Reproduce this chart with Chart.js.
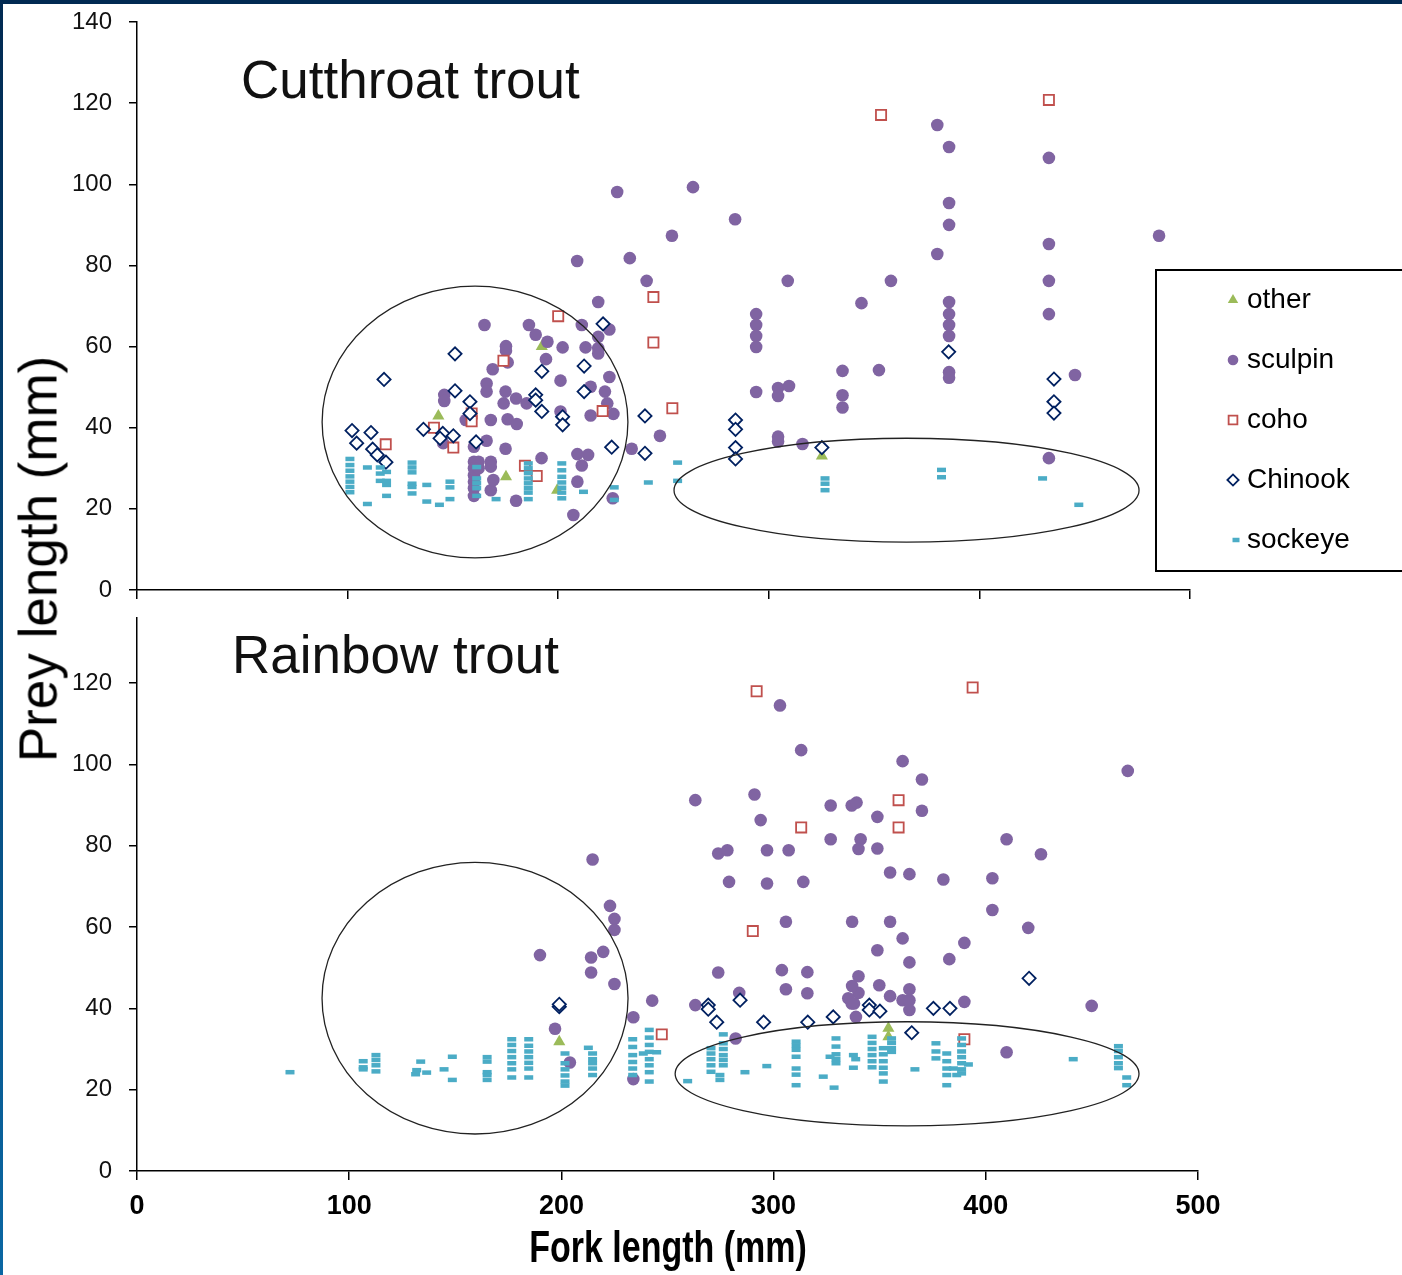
<!DOCTYPE html>
<html lang="en">
<head>
<meta charset="UTF-8">
<title>Prey length by fork length</title>
<script src="https://cdn.jsdelivr.net/npm/chart.js@4.4.0/dist/chart.umd.min.js"></script>
<style>
    body { margin: 0; background: #fff; }
    #page { position: relative; width: 1402px; height: 1275px; overflow: hidden; font-family: Arial, "Liberation Sans", sans-serif; }
    canvas { position: absolute; left: 0; }
    /* y tick labels push the plot area 32px in from each canvas edge, so the canvases are shifted to put the axes in place */
    #cut { top: -10px; }
    #rain { top: 586px; }
    #band-top { position: absolute; left: 0; top: 0; width: 1402px; height: 4px; background: #012a52; }
    #band-left { position: absolute; left: 0; top: 0; width: 3px; height: 1275px; background: linear-gradient(#012a52, #0a67a3); }
    #ylabel { position: absolute; left: 38px; top: 559px; transform: translate(-50%, -50%) rotate(-90deg);
              white-space: nowrap; font-size: 53px; color: #000; }
    #xlabel { position: absolute; left: 668px; top: 1246px; transform: translate(-50%, -50%) scaleY(1.3);
              white-space: nowrap; font-size: 34px; font-weight: bold; line-height: 1; color: #000; }
</style>
<script type="text/javascript">
    // each row: [fork length, prey length, prey length, ...]
    var cutOther = [[192.2,60],[143.1,42.9],[175.2,27.9],[199.5,24.6],[325.2,33]];
    var cutSculpin = [
        [228,98.1],[264,99.3],[284,91.4],[209,81.1],[234,81.8],[254,87.3],[242,76.2],[219,71,62.4,59.6,58.3],[309,76.2],[344,70.7],[358,76.2],
        [380,114.6,82.8],[385.6,109.2,95.4,90,71,68,65.3,62.6,53.7,52.3],
        [433,106.5,85.3,76.2,68,32.5],[445.4,53],[485.3,87.3],
        [294,68,65.3,62.6,59.9,48.8],[304.4,49.8,47.8,37.8,36.6],[309.6,50.3],[316,36],
        [335,54,48,45],[352.3,54.2],
        [165,65.3],[186.1,65.3],[211.2,65.3,30.7],[224.3,64.2,52.5],[189.3,62.9],[194.9,61.2],[175.2,60.1,59],[202.1,59.8],[213,59.8],
        [194.2,56.9],[176,56.1,42.1],[168.9,54.4],[201.1,51.6,44],[166,50.9,48.9,36.8],[215.4,50.1,43],[145.9,48.1,46.6],[175,48.9,34.8],
        [180,47.2,22],[185,46],[174.1,46],[222.2,48.9],[223.3,46],[226.2,43.4],[168,41.9,31.6,30.4,24.6],[180.3,40.9],[156.1,41.9],
        [160,35.3,31.6,30,28.3,26.7,25.1,23.2],[162.2,31.6,30],[145.4,36.2],[234.9,34.8],[248.3,38],[192.1,32.5],[209.1,33.5,26.7],
        [214.2,33.3],[169.2,27.1],[225.9,22.6],[207.2,18.5]
    ];
    var cutCoho = [[200,67.5],[174,56.5],[158.9,43.5,41.6],[141,40],[118.1,35.9],[150.2,35.1],[221.1,44.1],[184.2,30.6],[189.8,28.1],
        [245.2,72.2,61],[254.2,44.8],[353.3,117.1],[433,120.8]];
    var cutChinook = [[221.3,65.6],[151,58.2,49.1],[117.3,51.9],[192.2,53.9,44],[212.3,55.2,48.9],[158.1,46.4,43.5],[189.3,48.1,46.8],
        [202.1,42.7,40.7],[102.1,39.3],[111.1,38.8],[136,39.6],[145.2,38.6],[143.9,37.4],[150.2,38],[104.3,36.2],[161,36.5],[111.9,34.7],
        [114.1,33.3],[118.2,31.5],[225.4,35.2],[241.2,42.9,33.7],[284.2,41.9,39.6,35.1,32.3],[325.2,35.1],[385.4,58.7],[435.4,52,46.4,43.6]];
    var cutSockeye = [[101.1,32.3,30.8,29.4,28,26.7,25.4,24.1],[109.4,30.2,21.2],[115.5,30.2,28.7,26.9],[118.5,29.1,26.9,25.9,23.2],
        [130.6,31.4,30.2,29,26.2,25.4,23.8],[137.6,25.9,21.8],[143.6,21],[148.6,26.7,25.3,22.4],[161.3,30.3,27.5,26.3,25.1,23.2],[170.5,22.4],
        [185.8,31.2,30,28.8,27.5,26.3,25.1,24,22.4],[201.7,31.2,29.5,27.9,26.5,25.2,24,22.6],[212,24.2],[226.6,25.3,22.2],[242.8,26.5],
        [256.7,31.4,26.9],[326.7,27.5,26.2,24.6],[382,29.6,27.8],[430,27.5],[447.2,21]];

    var rbOther = [[199,31.8],[354.1,35.1,33]];
    var rbSculpin = [
        [214.7,76.6],[222.9,65.2],[225,62,59.3,46],[189.9,53.1],[214,52.5,48.8],[219.7,53.9],[242.8,41.9],[233.9,37.8,22.6],[197,35],[204,26.7],
        [303,114.5],[313,103.5],[360.8,100.8,57.2,42],[369.9,96.3,88.6],[263.1,91.2,40.8],[291,92.6],[326.9,89.9,81.6],[336.8,89.9,41.2],
        [339.1,90.6],[348.9,87.1,79.3,54.3],[293.9,86.3],[341,81.6],[340,79.2,47.9,43.8],[273.9,78.1,48.8],[278.2,78.9],[296.9,78.9,70.7],
        [307.1,78.9],[279,71.1],[314,71.1],[354.9,73.4,61.3,43],[364,73,51.3,42,44.7,39.6],[380,71.7],[403.1,72,64.2],[305.8,61.3,44.7],
        [337,61.3,45.5],[389.9,56.1,41.6],[382.8,52.1],[303.9,49.4],[315.9,48.9,43.7],[335.2,42.5],[337.9,41.2],[349.8,45.7],[283.8,43.8],
        [338.8,37.9],[282.1,32.6],[409.8,81.6,29.2],[426,77.9],[420,59.8],[449.9,40.6],[466.9,98.4]
    ];
    var rbCoho = [[292,118],[393.8,118.9],[358.9,91.2,84.5],[313,84.5],[290.2,59],[247.3,33.6],[389.9,32.4]];
    var rbChinook = [[199,40.4,41],[269.2,40.8,39.8],[273.2,36.6],[284.2,42],[295.3,36.6],[316.1,36.6],[328.1,37.9],[345.1,40.8,39.6],
        [350.1,39.3],[365.1,34],[375.3,40],[383.1,40],[420.4,47.4]];
    var rbSockeye = [[72.1,24.3],[106.6,27,25.5,25],[112.6,28.5,27.3,26,24.5],[133.7,26.9],[131.8,24.8],[131.3,23.8],[136.5,24.2],
        [148.6,28.1,22.4],[144.7,25],[165,28,26.9,24.3,23.6,22.4],[176.6,32.4,31,29.5,28,26.5,25,23],[184.6,32.4,30.8,29.4,28,26.6,25.2,23],
        [201.7,28.9,26.5,25,23.5,22,21],[212.7,30.3],[214.7,28.9,27.5,26.5,25.2,23.6],[233.6,32.4,30.5,28.5,26.8,25.2,23.6],
        [241.4,34.7,32.8,31,29.3,27.5,26,24.3,22],[238.6,28.9],[244.9,29.2],[259.5,22.1],[276.3,33.6,31.4,30,28.5,27.3,26],
        [270.5,30.2,28.9,27.5,26,24.4],[274.7,23.6,22.4],[286.5,24.3],[296.8,25.8],[310.6,31.8,30.8,29.8,28.1,25.2,23.7,21.1],[323.4,23.2],
        [328.5,20.5],[329.4,32.6,30.6,28.7,27.5,26.5],[326.6,28.1],[337.6,28.5,25.4],[338.7,27.5],[346.4,33,31.5,30,28.5,27,25.5],
        [351.7,30.2,28.7,27,25.4,24,22],[355.6,32.6,31.5,30.2,29.3],[366.6,25],[376.5,31.4,29.4,27.7],[381.6,28.9,27,25.2,23.6,21.1],
        [384.7,25.2],[388.6,32.6,31,29.4,28,26.5,25,24],[386.3,23.6],[391.8,26.2],[441.2,27.5],[462.5,30.7,29.5,28,26.5,25.3],[466.4,23,21.1]];

    // ovals drawn by hand on the slide: [centre x, centre y, radius x, radius y] in data units
    var cutOvals = [[160.5,41.4,72.6,33.5],[365.4,24.6,110.4,12.8]];
    var rbOvals = [[159.3,42.5,72.1,33.4],[362.9,23.9,109.3,12.8]];

    var seriesNames = ['other', 'sculpin', 'coho', 'Chinook', 'sockeye'];
    var xTicks = [0, 100, 200, 300, 400, 500];
    var yTicks = [0, 20, 40, 60, 80, 100, 120, 140];

    function points(rows) {
        var out = [];
        rows.forEach(function(r) {
            for (var i = 1; i < r.length; i++) out.push({x: r[0], y: r[i]});
        });
        return out;
    }

    function makeDatasets(other, sculpin, coho, chinook, sockeye) {
        return [
            {label: seriesNames[0], data: points(other), order: 4, pointStyle: 'triangle', pointRadius: 7,
             backgroundColor: '#9bbb59', borderColor: '#9bbb59', borderWidth: 0},
            {label: seriesNames[1], data: points(sculpin), order: 3, pointStyle: 'circle', pointRadius: 6.3,
             backgroundColor: '#8064a2', borderColor: '#8064a2', borderWidth: 0},
            {label: seriesNames[2], data: points(coho), order: 2, pointStyle: 'rect', pointRadius: 7.2,
             backgroundColor: '#fff', borderColor: '#c0504d', borderWidth: 1.8},
            {label: seriesNames[3], data: points(chinook), order: 1, pointStyle: 'rectRot', pointRadius: 6.6,
             backgroundColor: '#fff', borderColor: '#002060', borderWidth: 1.8},
            {label: seriesNames[4], data: points(sockeye), order: 0, pointStyle: 'line', pointRadius: 4.5,
             backgroundColor: '#4bacc6', borderColor: '#4bacc6', borderWidth: 4.5}
        ];
    }

    var ovals = {
        id: 'ovals',
        afterDatasetsDraw: function(chart, args, opts) {
            var ctx = chart.ctx, x = chart.scales.x, y = chart.scales.y;
            ctx.save();
            ctx.strokeStyle = '#222';
            ctx.lineWidth = 1.3;
            opts.list.forEach(function(e) {
                var cx = x.getPixelForValue(e[0]), cy = y.getPixelForValue(e[1]);
                var rx = Math.abs(x.getPixelForValue(e[0] + e[2]) - cx);
                var ry = Math.abs(y.getPixelForValue(e[1] + e[3]) - cy);
                ctx.beginPath();
                ctx.ellipse(cx, cy, rx, ry, 0, 0, Math.PI * 2);
                ctx.stroke();
            });
            ctx.restore();
        }
    };

    var panelTitle = {
        id: 'panelTitle',
        afterDraw: function(chart, args, opts) {
            var ctx = chart.ctx;
            ctx.save();
            ctx.fillStyle = '#111';
            ctx.font = '53px Arial, "Liberation Sans", sans-serif';
            ctx.textBaseline = 'alphabetic';
            ctx.fillText(opts.text, chart.chartArea.left + opts.dx, chart.chartArea.top + opts.dy);
            ctx.restore();
        }
    };

    // legend box on the right of the upper panel, placed from the plot area corner
    var boxLegend = {
        id: 'boxLegend',
        afterDraw: function(chart, args, opts) {
            if (!opts.show) return;
            var ctx = chart.ctx, area = chart.chartArea;
            ctx.save();
            ctx.strokeStyle = '#000';
            ctx.lineWidth = 2;
            ctx.strokeRect(area.right - 34, area.top + 248, 260, 301);
            ctx.font = '28px Arial, "Liberation Sans", sans-serif';
            ctx.textBaseline = 'middle';
            chart.data.datasets.forEach(function(ds, i) {
                var cy = area.top + 278 + i * 60;
                ctx.fillStyle = ds.backgroundColor;
                ctx.strokeStyle = ds.borderColor;
                ctx.lineWidth = ds.borderWidth;
                var r = ds.pointStyle === 'line' ? 3.5 : ds.pointRadius - 1;
                Chart.helpers.drawPoint(ctx, {pointStyle: ds.pointStyle, radius: r, borderWidth: ds.borderWidth, rotation: 0},
                    area.right + (ds.pointStyle === 'line' ? 46 : 43), cy);
                ctx.fillStyle = '#000';
                ctx.fillText(ds.label, area.right + 57, cy);
            });
            ctx.restore();
        }
    };

    function axisX(showLabels, height) {
        return {
            type: 'linear', min: 0, max: 500,
            afterBuildTicks: function(s) { s.ticks = xTicks.map(function(v) { return {value: v}; }); },
            ticks: {display: showLabels, color: '#000', padding: 10, font: {size: 27, weight: 'bold'}},
            grid: {drawOnChartArea: false, drawTicks: true, tickLength: 9, color: '#000', lineWidth: 1.5},
            border: {color: '#000', width: 1.5},
            afterFit: function(s) { s.height = height; }
        };
    }

    function axisY(max, ticks) {
        return {
            type: 'linear', min: 0, max: max,
            afterBuildTicks: function(s) { s.ticks = ticks.map(function(v) { return {value: v}; }); },
            ticks: {color: '#111', padding: 17, font: {size: 24, lineHeight: 1.25}},
            grid: {drawOnChartArea: false, drawTicks: true, tickLength: 8, color: '#000', lineWidth: 1.5},
            border: {color: '#000', width: 1.5},
            afterFit: function(s) { s.width = 137; }
        };
    }

    function drawCharts() {
        Chart.defaults.font.family = 'Arial, "Liberation Sans", sans-serif';

        new Chart(document.getElementById('cut').getContext('2d'), {
            type: 'scatter',
            data: {datasets: makeDatasets(cutOther, cutSculpin, cutCoho, cutChinook, cutSockeye)},
            options: {
                responsive: false, animation: false, devicePixelRatio: 1,
                layout: {padding: {left: 0, top: 32, right: 212, bottom: 0}},
                scales: {x: axisX(false, 32), y: axisY(140, yTicks)},
                plugins: {
                    legend: {display: false}, tooltip: {enabled: false},
                    ovals: {list: cutOvals},
                    panelTitle: {text: 'Cutthroat trout', dx: 104, dy: 76},
                    boxLegend: {show: true}
                }
            },
            plugins: [ovals, panelTitle, boxLegend]
        });

        new Chart(document.getElementById('rain').getContext('2d'), {
            type: 'scatter',
            data: {datasets: makeDatasets(rbOther, rbSculpin, rbCoho, rbChinook, rbSockeye)},
            options: {
                responsive: false, animation: false, devicePixelRatio: 1,
                layout: {padding: {left: 0, top: 32, right: 204, bottom: 0}},
                scales: {x: axisX(true, 104), y: axisY(136, yTicks.slice(0, 7))},
                plugins: {
                    legend: {display: false}, tooltip: {enabled: false},
                    ovals: {list: rbOvals},
                    panelTitle: {text: 'Rainbow trout', dx: 95, dy: 55},
                    boxLegend: {show: false}
                }
            },
            plugins: [ovals, panelTitle, boxLegend]
        });
    }

    window.addEventListener('load', drawCharts);
</script>
</head>
<body>
<div id="page">
    <canvas id="cut" width="1402" height="632"></canvas>
    <canvas id="rain" width="1402" height="689"></canvas>
    <div id="ylabel">Prey length (mm)</div>
    <div id="xlabel">Fork length (mm)</div>
    <div id="band-top"></div>
    <div id="band-left"></div>
</div>
</body>
</html>
